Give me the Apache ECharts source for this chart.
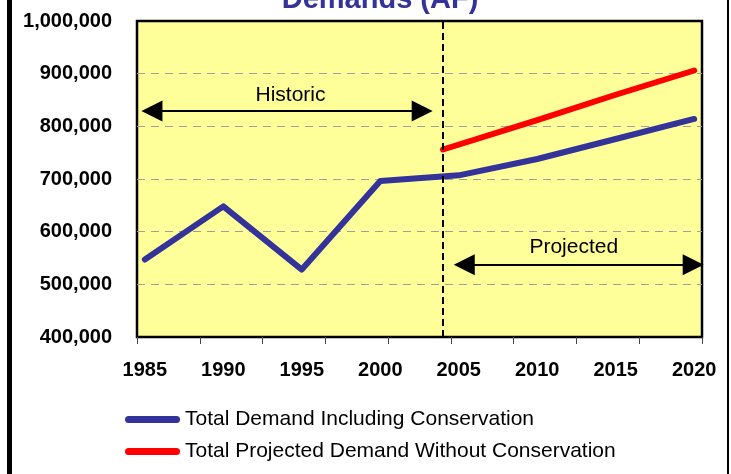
<!DOCTYPE html>
<html>
<head>
<meta charset="utf-8">
<title>Demands (AF)</title>
<script src="https://cdn.jsdelivr.net/npm/echarts@6.0.0/dist/echarts.min.js"></script>
<style>
  html, body { margin: 0; padding: 0; background: #fff; }
  #chart { width: 731px; height: 474px; }
</style>
</head>
<body>
<div id="chart"></div>
<script>
// 数据
var years = [1985, 1990, 1995, 2000, 2005, 2010, 2015, 2020];
var withConservation = [547000, 648000, 528000, 696000, 707000, 738000, 776000, 814000];
var projYears = [2004, 2010, 2015, 2020];
var withoutConservation = [756000, 812000, 860000, 906000];
var yearLabels = [1985, 1990, 1995, 2000, 2005, 2010, 2015, 2020];
var splitYear = 2004;

var FONT = 'Liberation Sans, Arial, sans-serif';

function pairs(xs, ys) {
    var out = [];
    for (var i = 0; i < xs.length; i++) out.push([xs[i], ys[i]]);
    return out;
}

var myChart = echarts.init(document.getElementById('chart'));

// 双向箭头
function arrow(x1, x2, y) {
    return [
        { coord: [x1, y], symbol: 'triangle', symbolSize: [21, 21] },
        { coord: [x2, y], symbol: 'triangle', symbolSize: [21, 21],
          lineStyle: { type: 'solid', color: '#000', width: 2 } }
    ];
}

var option = {
    animation: false,
    graphic: [
        { type: 'text', x: 380, y: 0, silent: true,
          style: { text: 'Demands (AF)', font: 'bold 29px ' + FONT, fill: '#333399',
                   align: 'center', verticalAlign: 'middle' } },
        { type: 'line', silent: true, shape: { x1: 9.5, y1: -5, x2: 9.5, y2: 480 },
          style: { stroke: '#000', lineWidth: 5 } },
        { type: 'line', silent: true, shape: { x1: 728, y1: -5, x2: 728, y2: 480 },
          style: { stroke: '#000', lineWidth: 2 } }
    ],
    grid: {
        left: 137, right: 29, top: 21, bottom: 137,
        show: true,
        backgroundColor: '#ffff99',
        borderColor: '#000',
        borderWidth: 2.5
    },
    legend: {
        orient: 'vertical',
        left: 125,
        top: 409,
        padding: 0,
        itemWidth: 55,
        itemHeight: 7,
        itemGap: 11,
        icon: 'path://M3.5,0 H51.5 A3.5,3.5 0 0 1 51.5,7 H3.5 A3.5,3.5 0 0 1 3.5,0 Z',
        textStyle: { color: '#000', fontSize: 21, fontFamily: FONT },
        selectedMode: false,
        data: ['Total Demand Including Conservation', 'Total Projected Demand Without Conservation']
    },
    xAxis: {
        type: 'value',
        min: 1984.5,
        max: 2020.5,
        interval: 4,
        axisLine: { show: false },
        axisTick: { show: true, length: 7, lineStyle: { color: '#444', width: 1 } },
        splitLine: { show: false },
        axisLabel: {
            customValues: yearLabels,
            margin: 23,
            color: '#000',
            fontSize: 20,
            fontWeight: 'bold',
            fontFamily: FONT,
            formatter: function (v) { return String(v); }
        }
    },
    yAxis: {
        type: 'value',
        min: 400000,
        max: 1000000,
        interval: 100000,
        axisLine: { show: false },
        axisTick: { show: false },
        splitLine: {
            show: true,
            showMinLine: false,
            showMaxLine: false,
            lineStyle: { color: '#a0a0a0', width: 1, type: [8, 6] }
        },
        axisLabel: {
            margin: 25,
            color: '#000',
            fontSize: 20,
            fontWeight: 'bold',
            fontFamily: FONT,
            formatter: function (v) { return echarts.format.addCommas(v); }
        }
    },
    series: [
        {
            name: 'Total Demand Including Conservation',
            type: 'line',
            data: pairs(years, withConservation),
            symbol: 'none',
            color: '#333399',
            lineStyle: { width: 6, color: '#333399', cap: 'round', join: 'round' },
            z: 2,
            markLine: {
                silent: true,
                symbol: ['none', 'none'],
                label: { show: false },
                data: [
                    [
                        { coord: [splitYear, 400000] },
                        { coord: [splitYear, 1000000],
                          lineStyle: { type: [7, 4], color: '#000', width: 2 } }
                    ],
                    arrow(1985.45, 2002.67, 829000),
                    arrow(2005.35, 2019.94, 537000)
                ]
            },
            markPoint: {
                silent: true,
                symbol: 'circle',
                symbolSize: 1,
                itemStyle: { color: 'rgba(0,0,0,0)' },
                label: {
                    show: true,
                    position: 'inside',
                    formatter: '{b}',
                    color: '#000',
                    fontSize: 21,
                    fontFamily: FONT
                },
                data: [
                    { name: 'Historic', coord: [1994.28, 860000] },
                    { name: 'Projected', coord: [2012.33, 571000] }
                ]
            }
        },
        {
            name: 'Total Projected Demand Without Conservation',
            type: 'line',
            data: pairs(projYears, withoutConservation),
            symbol: 'none',
            color: '#ff0000',
            lineStyle: { width: 6, color: '#ff0000', cap: 'round', join: 'round' },
            z: 2
        }
    ]
};

myChart.setOption(option);
</script>
</body>
</html>
